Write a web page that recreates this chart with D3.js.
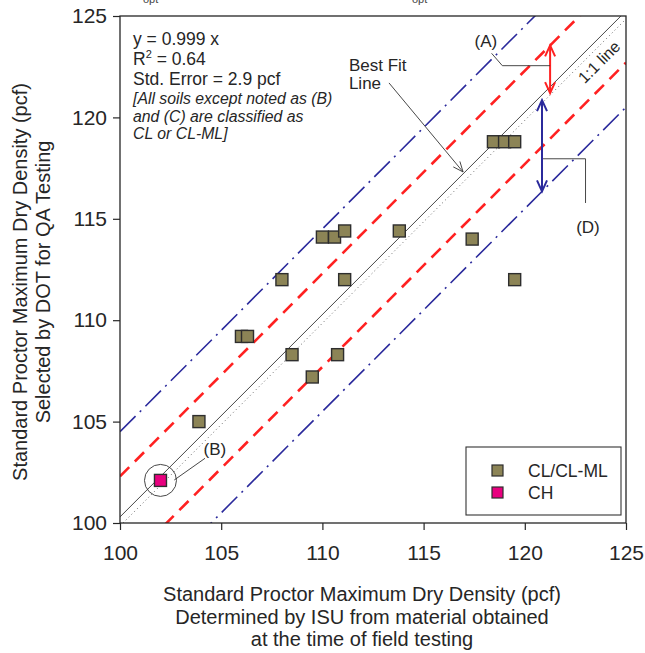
<!DOCTYPE html>
<html>
<head>
<meta charset="utf-8">
<script src="https://cdn.jsdelivr.net/npm/d3@7"></script>
<style>
  body { margin: 0; background: #fff; }
  svg { font-family: Arial, "Liberation Sans", sans-serif; }
</style>
</head>
<body>
<div id="chart"></div>
<script>
// data
const clX = [103.9, 106.0, 106.3, 108.0, 108.5, 109.5, 110.0, 110.6, 110.75, 111.1, 111.1, 113.8, 117.4, 118.45, 119.0, 119.5, 119.5];
const clY = [105.0, 109.2, 109.2, 112.0, 108.3, 107.2, 114.1, 114.1, 108.3, 114.4, 112.0, 114.4, 114.0, 118.8, 118.8, 118.8, 112.0];
const chX = [102.0];
const chY = [102.1];
const ticks = [100, 105, 110, 115, 120, 125];
const bestFitLine = [[100, 100.3], [124.75, 125]];
const oneToOne = [[100, 100], [125, 125]];
const redOffset = 2.3;   // dashed red band
const blueOffset = 4.5;  // dash-dot blue band
const statsLines = ["y = 0.999 x", "R2 = 0.64", "Std. Error = 2.9 pcf"];
const noteLines = ["[All soils except noted as (B)", "and (C) are classified as", "CL or CL-ML]"];
const legendItems = ["CL/CL-ML", "CH"];

const W = 645, H = 653;
const margin = { top: 16, right: 19, bottom: 130, left: 120 };
const width = W - margin.left - margin.right;
const height = H - margin.top - margin.bottom;

const olive = "#8c8456", pink = "#e8007f", red = "#ff2121", blue = "#2b2a9c", ink = "#262626";

const svg = d3.select("#chart").append("svg")
  .attr("width", W).attr("height", H);

// clipped remnants of caption above the chart
svg.append("text").attr("x", 143).attr("y", 3).attr("font-size", 11).attr("fill", "#444").text("opt");
svg.append("text").attr("x", 412).attr("y", 3).attr("font-size", 11).attr("fill", "#444").text("opt");

const g = svg.append("g").attr("transform", `translate(${margin.left},${margin.top})`);

const x = d3.scaleLinear().domain([100, 125]).range([0, width]);
const y = d3.scaleLinear().domain([100, 125]).range([height, 0]);

svg.append("defs").append("clipPath").attr("id", "plotClip")
  .append("rect").attr("width", width).attr("height", height);

const plot = g.append("g").attr("clip-path", "url(#plotClip)");
const line = d3.line().x(d => x(d[0])).y(d => y(d[1]));

// bands
[1, -1].forEach(s => {
  plot.append("path")
    .datum([[100, 100 + s * blueOffset], [125, 125 + s * blueOffset]])
    .attr("d", line).attr("fill", "none").attr("stroke", blue)
    .attr("stroke-width", 1.6).attr("stroke-dasharray", "22,6,2,6");
  plot.append("path")
    .datum([[100, 100 + s * redOffset], [125, 125 + s * redOffset]])
    .attr("d", line).attr("fill", "none").attr("stroke", red)
    .attr("stroke-width", 2.6).attr("stroke-dasharray", "13,8");
});

plot.append("path").datum(oneToOne).attr("d", line)
  .attr("fill", "none").attr("stroke", "#666").attr("stroke-width", 1)
  .attr("stroke-dasharray", "1,3").attr("transform", "translate(3,0)");
plot.append("path").datum(bestFitLine).attr("d", line)
  .attr("fill", "none").attr("stroke", "#333").attr("stroke-width", 0.9);

// axes
const xAxis = g.append("g").attr("transform", `translate(0,${height})`)
  .call(d3.axisBottom(x).tickValues(ticks).tickSize(7).tickPadding(15).tickSizeOuter(0));
const yAxis = g.append("g")
  .call(d3.axisLeft(y).tickValues(ticks).tickSize(7).tickPadding(6).tickSizeOuter(0));
[xAxis, yAxis].forEach(a => {
  a.select(".domain").remove();
  a.selectAll("line").attr("stroke", ink).attr("stroke-width", 1.2);
  a.selectAll("text").attr("font-size", 21).attr("fill", ink)
    .attr("font-family", 'Arial, "Liberation Sans", sans-serif');
});
g.append("rect").attr("width", width).attr("height", height)
  .attr("fill", "none").attr("stroke", ink).attr("stroke-width", 1.3);

// arrows
const arrowHead = (px, py, dir, color) => {
  g.append("path")
    .attr("d", `M${px - 5},${py - dir * 11} L${px},${py} L${px + 5},${py - dir * 11}`)
    .attr("fill", "none").attr("stroke", color).attr("stroke-width", 2);
};
const vArrow = (xv, y1, y2, color) => {
  g.append("line").attr("x1", x(xv)).attr("x2", x(xv)).attr("y1", y(y1)).attr("y2", y(y2))
    .attr("stroke", color).attr("stroke-width", 2);
  arrowHead(x(xv), y(y1), -1, color);
  arrowHead(x(xv), y(y2), 1, color);
};
vArrow(121.25, 121.25 + redOffset, 121.2, red);
vArrow(120.85, 120.85, 120.85 - blueOffset, blue);

const leader = pts => g.append("path").datum(pts).attr("d", line)
  .attr("fill", "none").attr("stroke", "#333").attr("stroke-width", 0.9);
leader([[118.36, 123.16], [118.89, 122.55], [121.25, 122.55]]);
leader([[120.9, 117.96], [123.0, 117.96], [123.0, 115.78]]);
leader([[102.68, 102.12], [104.2, 103.19]]);
leader([[113.29, 121.7], [116.95, 117.31]]);
// best fit arrowhead (open)
{
  const x1 = x(113.29), y1 = y(121.7), x2 = x(116.95), y2 = y(117.31);
  const ang = Math.atan2(y2 - y1, x2 - x1);
  const L = 11, a = 0.4;
  g.append("path")
    .attr("d", `M${x2 - L * Math.cos(ang - a)},${y2 - L * Math.sin(ang - a)} L${x2},${y2} L${x2 - L * Math.cos(ang + a)},${y2 - L * Math.sin(ang + a)}`)
    .attr("fill", "none").attr("stroke", "#333").attr("stroke-width", 0.9);
}

// circle around CH point
g.append("circle").attr("cx", x(chX[0])).attr("cy", y(chY[0])).attr("r", 16)
  .attr("fill", "none").attr("stroke", "#333").attr("stroke-width", 0.9);

// points
const ms = 12;
g.selectAll(".cl").data(clX.map((v, i) => [v, clY[i]])).enter().append("rect")
  .attr("x", d => x(d[0]) - ms / 2).attr("y", d => y(d[1]) - ms / 2)
  .attr("width", ms).attr("height", ms)
  .attr("fill", olive).attr("stroke", "#2e2e2e").attr("stroke-width", 1.4);
g.selectAll(".ch").data(chX.map((v, i) => [v, chY[i]])).enter().append("rect")
  .attr("x", d => x(d[0]) - ms / 2).attr("y", d => y(d[1]) - ms / 2)
  .attr("width", ms).attr("height", ms)
  .attr("fill", pink).attr("stroke", "#2e2e2e").attr("stroke-width", 1.4);

// labels
const label = (xv, yv, txt, size, anchor) => g.append("text")
  .attr("x", x(xv)).attr("y", y(yv)).attr("font-size", size)
  .attr("text-anchor", anchor || "middle").attr("fill", ink).text(txt);
label(118.08, 123.47, "(A)", 17);
label(123.12, 114.3, "(D)", 17);
label(104.69, 103.35, "(B)", 17);
label(111.31, 122.29, "Best Fit", 17, "start");
label(111.31, 121.4, "Line", 17, "start");
g.append("text").attr("transform", `translate(${x(123.67)},${y(122.73)}) rotate(-45)`)
  .attr("font-size", 16).attr("text-anchor", "middle").attr("dy", "0.35em").attr("fill", ink).text("1:1 line");

// stats block
const stats = g.append("g").attr("transform", "translate(13,0)");
const lineY = [29, 49, 69];
stats.append("text").attr("y", lineY[0]).attr("font-size", 17.5).attr("fill", ink).text(statsLines[0]);
const r2 = stats.append("text").attr("y", lineY[1]).attr("font-size", 17.5).attr("fill", ink);
r2.append("tspan").text("R");
r2.append("tspan").attr("font-size", 11).attr("dy", -7).text("2");
r2.append("tspan").attr("dy", 7).text(" = 0.64");
stats.append("text").attr("y", lineY[2]).attr("font-size", 17.5).attr("fill", ink).text(statsLines[2]);
noteLines.forEach((t, i) => stats.append("text").attr("y", 88 + i * 17.5)
  .attr("font-size", 15.8).attr("font-style", "italic").attr("fill", ink).text(t));

// legend
const lg = svg.append("g").attr("transform", "translate(466,447)");
lg.append("rect").attr("width", 155).attr("height", 68)
  .attr("fill", "#fff").attr("stroke", "#333").attr("stroke-width", 1.1);
legendItems.forEach((t, i) => {
  lg.append("rect").attr("x", 26).attr("y", 18 + i * 22).attr("width", 11).attr("height", 11)
    .attr("fill", i === 0 ? olive : pink).attr("stroke", "#2e2e2e").attr("stroke-width", 1.2);
  lg.append("text").attr("x", 62).attr("y", 30 + i * 22).attr("font-size", 17.5).attr("fill", ink).text(t);
});

// axis titles
const xt = svg.append("text").attr("text-anchor", "middle").attr("font-size", 20).attr("fill", ink);
["Standard Proctor Maximum Dry Density (pcf)", "Determined by ISU from material obtained", "at the time of field testing"]
  .forEach((t, i) => xt.append("tspan").attr("x", 362).attr("y", 601 + i * 22.5).text(t));
const yt = svg.append("text").attr("text-anchor", "middle").attr("font-size", 20).attr("fill", ink)
  .attr("transform", "translate(0,282) rotate(-90)");
["Standard Proctor Maximum Dry Density (pcf)", "Selected by DOT for QA Testing"]
  .forEach((t, i) => yt.append("tspan").attr("x", 0).attr("y", 27 + i * 23).text(t));
</script>
</body>
</html>
